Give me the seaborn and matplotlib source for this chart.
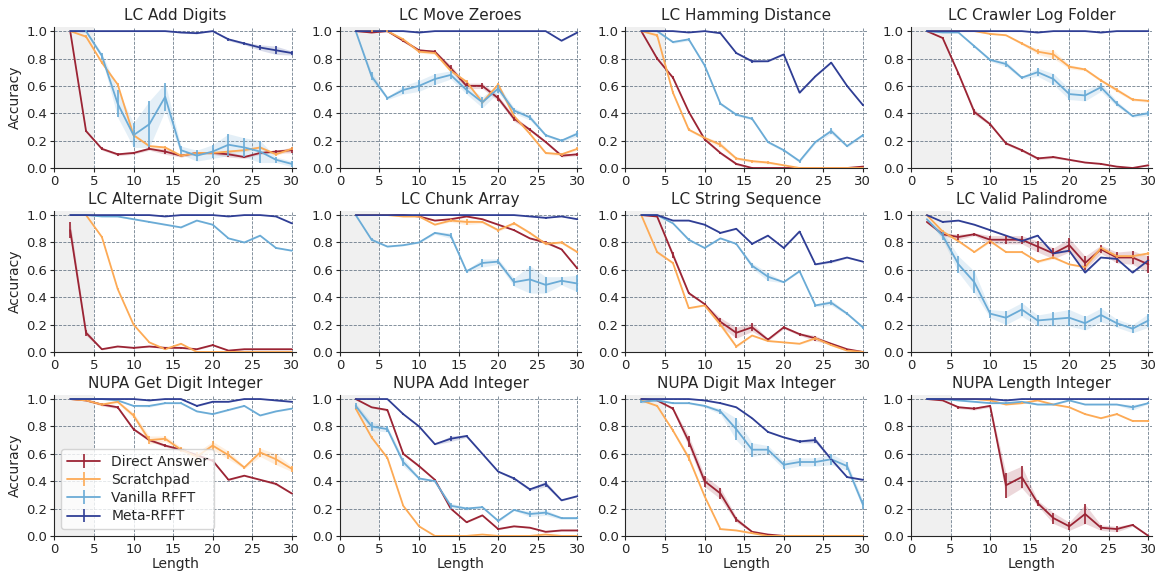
import numpy as np
import pandas as pd
import matplotlib
matplotlib.use("Agg")
import matplotlib.pyplot as plt
import seaborn as sns

lengths = [2, 4, 6, 8, 10, 12, 14, 16, 18, 20, 22, 24, 26, 28, 30]
methods = ["Direct Answer", "Scratchpad", "Vanilla RFFT", "Meta-RFFT"]
titles = ["LC Add Digits", "LC Move Zeroes", "LC Hamming Distance", "LC Crawler Log Folder",
          "LC Alternate Digit Sum", "LC Chunk Array", "LC String Sequence", "LC Valid Palindrome",
          "NUPA Get Digit Integer", "NUPA Add Integer", "NUPA Digit Max Integer", "NUPA Length Integer"]

# mean accuracy per task: [Direct, Scratchpad, Vanilla, Meta]
add_digits_mean = [
    [1.0, 0.27, 0.14, 0.10, 0.11, 0.14, 0.12, 0.09, 0.11, 0.11, 0.10, 0.08, 0.11, 0.12, 0.13],
    [1.0, 0.96, 0.77, 0.61, 0.24, 0.16, 0.15, 0.09, 0.11, 0.11, 0.12, 0.13, 0.15, 0.10, 0.14],
    [1.0, 1.0, 0.82, 0.47, 0.24, 0.32, 0.52, 0.13, 0.09, 0.12, 0.17, 0.15, 0.12, 0.06, 0.03],
    [1.0, 1.0, 1.0, 1.0, 1.0, 1.0, 1.0, 0.99, 0.985, 1.0, 0.94, 0.91, 0.88, 0.86, 0.84]]
add_digits_err = [
    [0, 0.01, 0.01, 0.01, 0.01, 0.01, 0.02, 0.01, 0.01, 0.01, 0.02, 0.01, 0.01, 0.01, 0.02],
    [0, 0.01, 0.01, 0.01, 0.01, 0.01, 0.01, 0.01, 0.01, 0.01, 0.01, 0.01, 0.01, 0.01, 0.01],
    [0, 0.01, 0.02, 0.10, 0.09, 0.17, 0.10, 0.03, 0.04, 0.05, 0.08, 0.07, 0.08, 0.02, 0.02],
    [0, 0, 0, 0, 0, 0, 0, 0.005, 0.005, 0, 0.01, 0.01, 0.02, 0.03, 0.015]]

move_zeroes_mean = [
    [1.0, 0.99, 1.0, 0.93, 0.86, 0.85, 0.73, 0.60, 0.60, 0.51, 0.36, 0.28, 0.19, 0.09, 0.10],
    [1.0, 1.0, 1.0, 0.94, 0.85, 0.84, 0.71, 0.63, 0.48, 0.61, 0.38, 0.25, 0.11, 0.10, 0.14],
    [1.0, 0.67, 0.51, 0.57, 0.60, 0.65, 0.68, 0.57, 0.48, 0.58, 0.42, 0.37, 0.24, 0.20, 0.25],
    [1.0, 1.0, 1.0, 1.0, 0.99, 1.0, 1.0, 1.0, 1.0, 1.0, 1.0, 1.0, 1.0, 0.93, 0.99]]
move_zeroes_err = [
    [0, 0.005, 0, 0.01, 0.01, 0.01, 0.02, 0.02, 0.02, 0.02, 0.02, 0.01, 0.01, 0.01, 0.01],
    [0, 0.005, 0.005, 0.01, 0.01, 0.01, 0.01, 0.01, 0.01, 0.01, 0.01, 0.01, 0.01, 0.01, 0.01],
    [0, 0.03, 0.01, 0.03, 0.04, 0.04, 0.03, 0.03, 0.04, 0.03, 0.02, 0.02, 0.01, 0.01, 0.02],
    [0, 0, 0, 0, 0.005, 0, 0, 0, 0, 0, 0, 0, 0, 0.005, 0.005]]

hamming_mean = [
    [1.0, 0.80, 0.66, 0.41, 0.21, 0.11, 0.03, 0.0, 0.0, 0.0, 0.0, 0.0, 0.0, 0.0, 0.01],
    [1.0, 0.97, 0.55, 0.28, 0.22, 0.17, 0.07, 0.05, 0.04, 0.02, 0.0, 0.0, 0.0, 0.0, 0.0],
    [1.0, 1.0, 0.92, 0.94, 0.75, 0.47, 0.39, 0.36, 0.19, 0.13, 0.05, 0.19, 0.27, 0.16, 0.24],
    [1.0, 1.0, 1.0, 0.99, 1.0, 0.985, 0.84, 0.78, 0.78, 0.83, 0.55, 0.67, 0.77, 0.60, 0.46]]
hamming_err = [
    [0, 0.01, 0.01, 0.01, 0.01, 0.01, 0.01, 0.005, 0, 0, 0, 0, 0, 0, 0.005],
    [0, 0.01, 0.01, 0.01, 0.01, 0.02, 0.01, 0.01, 0.01, 0.005, 0, 0, 0, 0, 0],
    [0, 0, 0.01, 0.01, 0.01, 0.01, 0.01, 0.01, 0.01, 0.01, 0.01, 0.01, 0.02, 0.01, 0.01],
    [0, 0, 0, 0, 0, 0.005, 0.005, 0.01, 0.005, 0.005, 0.005, 0.005, 0.005, 0.005, 0.005]]

crawler_mean = [
    [1.0, 0.95, 0.69, 0.41, 0.32, 0.18, 0.13, 0.07, 0.08, 0.06, 0.04, 0.03, 0.01, 0.0, 0.02],
    [1.0, 1.0, 1.0, 1.0, 0.98, 0.97, 0.91, 0.85, 0.83, 0.74, 0.72, 0.64, 0.57, 0.50, 0.49],
    [1.0, 0.99, 0.99, 0.89, 0.79, 0.76, 0.66, 0.70, 0.65, 0.54, 0.53, 0.59, 0.47, 0.38, 0.40],
    [1.0, 1.0, 1.0, 1.0, 1.0, 1.0, 1.0, 0.99, 1.0, 1.0, 1.0, 0.99, 1.0, 1.0, 1.0]]
crawler_err = [
    [0, 0.005, 0.01, 0.02, 0.01, 0.01, 0.01, 0.01, 0.01, 0.005, 0.005, 0.005, 0.005, 0, 0.005],
    [0, 0, 0, 0, 0.005, 0.005, 0.01, 0.02, 0.03, 0.015, 0.01, 0.01, 0.015, 0.01, 0.01],
    [0, 0, 0, 0.01, 0.01, 0.02, 0.01, 0.03, 0.04, 0.04, 0.04, 0.03, 0.02, 0.01, 0.02],
    [0, 0, 0, 0, 0, 0, 0, 0.005, 0, 0, 0, 0.005, 0, 0, 0]]

alt_digit_mean = [
    [0.89, 0.14, 0.02, 0.04, 0.03, 0.04, 0.03, 0.03, 0.02, 0.05, 0.01, 0.02, 0.02, 0.02, 0.02],
    [1.0, 1.0, 0.84, 0.46, 0.20, 0.07, 0.02, 0.06, 0.0, 0.0, 0.0, 0.0, 0.0, 0.0, 0.0],
    [1.0, 1.0, 0.99, 0.99, 0.97, 0.95, 0.93, 0.91, 0.96, 0.93, 0.83, 0.80, 0.85, 0.76, 0.74],
    [1.0, 1.0, 1.0, 1.0, 1.0, 1.0, 0.99, 1.0, 1.0, 1.0, 0.99, 1.0, 1.0, 0.99, 0.94]]
alt_digit_err = [
    [0.06, 0.02, 0.005, 0.005, 0.005, 0.005, 0.005, 0.005, 0.005, 0.005, 0.005, 0.005, 0.005, 0.005, 0.005],
    [0, 0, 0.005, 0.005, 0.005, 0.005, 0.005, 0.005, 0, 0, 0, 0, 0, 0, 0],
    [0, 0, 0, 0.005, 0.005, 0.005, 0.005, 0.005, 0.005, 0.005, 0.005, 0.005, 0.005, 0.005, 0.005],
    [0, 0, 0, 0, 0, 0, 0, 0, 0, 0, 0, 0, 0, 0, 0.005]]

chunk_mean = [
    [1.0, 1.0, 1.0, 1.0, 0.99, 0.96, 0.97, 0.99, 0.97, 0.93, 0.89, 0.83, 0.80, 0.75, 0.61],
    [1.0, 1.0, 1.0, 0.99, 0.99, 0.93, 0.96, 0.95, 0.95, 0.89, 0.94, 0.87, 0.79, 0.80, 0.73],
    [1.0, 0.82, 0.77, 0.78, 0.80, 0.87, 0.85, 0.59, 0.65, 0.66, 0.51, 0.53, 0.49, 0.52, 0.50],
    [1.0, 1.0, 1.0, 1.0, 1.0, 1.0, 1.0, 1.0, 1.0, 1.0, 1.0, 0.99, 0.98, 0.99, 0.97]]
chunk_err = [
    [0, 0, 0, 0, 0.005, 0.005, 0.005, 0.005, 0.005, 0.005, 0.005, 0.005, 0.01, 0.005, 0.005],
    [0, 0, 0, 0.005, 0.005, 0.005, 0.01, 0.02, 0.01, 0.01, 0.01, 0.01, 0.01, 0.01, 0.01],
    [0, 0.01, 0.005, 0.005, 0.005, 0.01, 0.02, 0.01, 0.03, 0.02, 0.03, 0.10, 0.06, 0.03, 0.06],
    [0, 0, 0, 0, 0, 0, 0, 0, 0, 0, 0, 0, 0.005, 0, 0.005]]

string_seq_mean = [
    [1.0, 0.99, 0.71, 0.43, 0.35, 0.22, 0.14, 0.18, 0.09, 0.18, 0.13, 0.10, 0.06, 0.02, 0.0],
    [1.0, 0.73, 0.65, 0.32, 0.34, 0.20, 0.04, 0.12, 0.08, 0.07, 0.06, 0.10, 0.05, 0.01, 0.0],
    [1.0, 1.0, 0.94, 0.82, 0.76, 0.83, 0.79, 0.63, 0.55, 0.51, 0.59, 0.34, 0.36, 0.28, 0.18],
    [1.0, 1.0, 0.96, 0.96, 0.93, 0.87, 0.90, 0.79, 0.85, 0.76, 0.88, 0.64, 0.66, 0.69, 0.66]]
string_seq_err = [
    [0, 0.005, 0.02, 0.01, 0.005, 0.03, 0.04, 0.03, 0.01, 0.01, 0.01, 0.02, 0.005, 0.005, 0],
    [0, 0.01, 0.01, 0.005, 0.005, 0.02, 0.01, 0.005, 0.005, 0.005, 0.005, 0.01, 0.005, 0.005, 0],
    [0, 0, 0.005, 0.01, 0.005, 0.005, 0.005, 0.02, 0.03, 0.005, 0.005, 0.01, 0.02, 0.01, 0.01],
    [0, 0, 0.005, 0.005, 0.005, 0.005, 0.005, 0.005, 0.005, 0.005, 0.005, 0.005, 0.01, 0.005, 0.005]]

palindrome_mean = [
    [0.95, 0.86, 0.84, 0.86, 0.82, 0.82, 0.82, 0.77, 0.72, 0.78, 0.65, 0.75, 0.69, 0.69, 0.64],
    [1.0, 0.88, 0.81, 0.73, 0.81, 0.73, 0.73, 0.66, 0.69, 0.64, 0.62, 0.76, 0.70, 0.70, 0.72],
    [0.97, 0.85, 0.64, 0.51, 0.28, 0.25, 0.31, 0.23, 0.24, 0.25, 0.21, 0.27, 0.21, 0.17, 0.23],
    [1.0, 0.95, 0.96, 0.93, 0.89, 0.85, 0.81, 0.85, 0.72, 0.74, 0.58, 0.69, 0.68, 0.58, 0.67]]
palindrome_err = [
    [0, 0.01, 0.02, 0.01, 0.03, 0.03, 0.03, 0.04, 0.04, 0.05, 0.05, 0.03, 0.04, 0.05, 0.06],
    [0, 0.01, 0.01, 0.005, 0.01, 0.005, 0.005, 0.01, 0.01, 0.005, 0.01, 0.01, 0.01, 0.01, 0.01],
    [0, 0.03, 0.06, 0.08, 0.03, 0.05, 0.05, 0.04, 0.05, 0.06, 0.05, 0.05, 0.03, 0.03, 0.05],
    [0, 0.005, 0.005, 0.005, 0.005, 0.005, 0.005, 0.005, 0.005, 0.005, 0.005, 0.005, 0.005, 0.005, 0.005]]

get_digit_mean = [
    [1.0, 0.99, 0.96, 0.94, 0.78, 0.70, 0.66, 0.63, 0.59, 0.55, 0.41, 0.44, 0.41, 0.38, 0.31],
    [1.0, 0.99, 0.96, 0.98, 0.88, 0.70, 0.71, 0.63, 0.58, 0.66, 0.59, 0.50, 0.61, 0.56, 0.49],
    [1.0, 1.0, 1.0, 0.99, 0.95, 0.95, 0.97, 0.97, 0.91, 0.89, 0.92, 0.95, 0.88, 0.91, 0.93],
    [1.0, 1.0, 1.0, 1.0, 1.0, 0.99, 1.0, 1.0, 0.95, 0.98, 0.98, 1.0, 1.0, 0.99, 0.98]]
get_digit_err = [
    [0, 0.005, 0.01, 0.01, 0.01, 0.01, 0.01, 0.01, 0.01, 0.01, 0.005, 0.005, 0.005, 0.01, 0.005],
    [0, 0.005, 0.01, 0.01, 0.02, 0.03, 0.02, 0.02, 0.03, 0.03, 0.03, 0.01, 0.03, 0.04, 0.02],
    [0, 0, 0, 0.005, 0.005, 0.01, 0.005, 0.005, 0.005, 0.005, 0.005, 0.005, 0.005, 0.005, 0.005],
    [0, 0, 0, 0, 0, 0.005, 0, 0, 0.005, 0.005, 0.005, 0, 0, 0.005, 0.005]]

add_int_mean = [
    [1.0, 0.94, 0.92, 0.60, 0.51, 0.41, 0.20, 0.10, 0.15, 0.05, 0.07, 0.06, 0.03, 0.04, 0.04],
    [0.93, 0.72, 0.57, 0.22, 0.07, 0.0, 0.0, 0.0, 0.01, 0.0, 0.0, 0.0, 0.01, 0.0, 0.0],
    [0.95, 0.80, 0.78, 0.54, 0.42, 0.40, 0.22, 0.20, 0.21, 0.11, 0.19, 0.16, 0.17, 0.13, 0.13],
    [1.0, 1.0, 1.0, 0.89, 0.80, 0.67, 0.71, 0.73, 0.60, 0.47, 0.42, 0.34, 0.38, 0.26, 0.29]]
add_int_err = [
    [0, 0.005, 0.01, 0.01, 0.01, 0.005, 0.005, 0.005, 0.005, 0.005, 0.005, 0.005, 0.005, 0.005, 0.005],
    [0.01, 0.01, 0.01, 0.005, 0.005, 0, 0, 0, 0.005, 0, 0, 0, 0.005, 0, 0],
    [0.02, 0.03, 0.02, 0.03, 0.01, 0.005, 0.02, 0.01, 0.005, 0.01, 0.005, 0.02, 0.02, 0.01, 0.01],
    [0, 0, 0, 0.005, 0.005, 0.005, 0.02, 0.01, 0.005, 0.005, 0.01, 0.01, 0.02, 0.005, 0.005]]

digit_max_mean = [
    [1.0, 0.99, 0.93, 0.69, 0.40, 0.31, 0.12, 0.03, 0.01, 0.0, 0.0, 0.0, 0.0, 0.0, 0.0],
    [0.99, 0.95, 0.77, 0.57, 0.29, 0.05, 0.04, 0.02, 0.0, 0.0, 0.0, 0.0, 0.0, 0.0, 0.0],
    [0.98, 0.99, 0.97, 0.97, 0.95, 0.91, 0.78, 0.63, 0.63, 0.52, 0.54, 0.54, 0.56, 0.51, 0.23],
    [1.0, 1.0, 1.0, 1.0, 0.99, 0.97, 0.94, 0.86, 0.76, 0.72, 0.69, 0.70, 0.56, 0.43, 0.41]]
digit_max_err = [
    [0, 0.005, 0.01, 0.04, 0.04, 0.04, 0.02, 0.005, 0.005, 0, 0, 0, 0, 0, 0],
    [0.005, 0.005, 0.01, 0.02, 0.005, 0.005, 0.005, 0.005, 0, 0, 0, 0, 0, 0, 0],
    [0.01, 0.005, 0.005, 0.005, 0.01, 0.02, 0.08, 0.05, 0.03, 0.03, 0.03, 0.03, 0.04, 0.03, 0.03],
    [0, 0, 0, 0, 0.005, 0.005, 0.005, 0.005, 0.005, 0.005, 0.01, 0.02, 0.005, 0.005, 0.005]]

length_int_mean = [
    [1.0, 0.99, 0.94, 0.93, 0.95, 0.37, 0.43, 0.24, 0.13, 0.07, 0.16, 0.06, 0.05, 0.08, 0.0],
    [1.0, 1.0, 1.0, 1.0, 0.99, 0.96, 0.97, 0.99, 0.96, 0.94, 0.89, 0.86, 0.89, 0.84, 0.84],
    [1.0, 1.0, 0.99, 0.98, 0.97, 0.97, 0.98, 0.96, 0.96, 0.99, 0.96, 0.96, 0.96, 0.94, 0.97],
    [1.0, 1.0, 1.0, 1.0, 1.0, 0.99, 1.0, 1.0, 1.0, 1.0, 1.0, 1.0, 1.0, 1.0, 1.0]]
length_int_err = [
    [0, 0, 0.01, 0.01, 0.01, 0.09, 0.08, 0.02, 0.04, 0.03, 0.07, 0.02, 0.02, 0.01, 0],
    [0, 0, 0, 0, 0.005, 0.005, 0.005, 0.005, 0.005, 0.005, 0.005, 0.005, 0.005, 0.005, 0.005],
    [0, 0, 0.005, 0.005, 0.005, 0.005, 0.005, 0.005, 0.005, 0.005, 0.005, 0.005, 0.005, 0.02, 0.005],
    [0, 0, 0, 0, 0, 0.005, 0, 0, 0, 0, 0, 0, 0, 0, 0]]

all_means = [add_digits_mean, move_zeroes_mean, hamming_mean, crawler_mean,
             alt_digit_mean, chunk_mean, string_seq_mean, palindrome_mean,
             get_digit_mean, add_int_mean, digit_max_mean, length_int_mean]
all_errs = [add_digits_err, move_zeroes_err, hamming_err, crawler_err,
            alt_digit_err, chunk_err, string_seq_err, palindrome_err,
            get_digit_err, add_int_err, digit_max_err, length_int_err]

colors = ["#9b2434", "#fdaa55", "#6aabd6", "#2f3e95"]

rows = []
for t, means in zip(titles, all_means):
    for m, vals in zip(methods, means):
        for x, v in zip(lengths, vals):
            rows.append({"task": t, "method": m, "Length": x, "Accuracy": v})
df = pd.DataFrame(rows)

sns.set_style("ticks")
plt.rcParams["font.family"] = ["DejaVu Sans"]

fig, axes = plt.subplots(3, 4, figsize=(11.57, 5.75), dpi=100)
fig.subplots_adjust(left=0.047, right=0.996, top=0.953, bottom=0.068, wspace=0.183, hspace=0.305)

for i, (ax, t) in enumerate(zip(axes.flat, titles)):
    ax.axvspan(0, 5, color="#f0f0f0", zorder=0, lw=0)
    sub = df[df.task == t]
    sns.lineplot(data=sub, x="Length", y="Accuracy", hue="method", hue_order=methods,
                 palette=colors, errorbar=None, ax=ax, legend=False, lw=1.3, zorder=3)
    handles = []
    for k, m in enumerate(methods):
        mu = np.array(all_means[i][k])
        e = np.array(all_errs[i][k])
        ax.fill_between(lengths, mu - e, mu + e, color=colors[k], alpha=0.18, lw=0, zorder=2)
        ax.errorbar(lengths, mu, yerr=e, color=colors[k], fmt="none", elinewidth=1.2,
                    capsize=0, zorder=3)
        handles.append(ax.errorbar([], [], yerr=[], color=colors[k], lw=1.3, elinewidth=1.2,
                                   capsize=0, label=m))
    ax.set_xlim(0, 30.5)
    ax.set_ylim(0, 1.03)
    ax.set_xticks([0, 5, 10, 15, 20, 25, 30])
    ax.set_yticks([0.0, 0.2, 0.4, 0.6, 0.8, 1.0])
    ax.set_yticklabels(["0.0", "0.2", "0.4", "0.6", "0.8", "1.0"])
    ax.grid(True, color="#34495e", linestyle="--", linewidth=0.6, alpha=0.7)
    ax.set_axisbelow(True)
    ax.tick_params(labelsize=9.5, length=3, pad=2)
    ax.set_title(t, fontsize=11, pad=5)
    ax.set_xlabel("Length" if i >= 8 else "", fontsize=10, labelpad=1)
    ax.set_ylabel("Accuracy" if i % 4 == 0 else "", fontsize=10, labelpad=3)
    sns.despine(ax=ax)
    if i == 8:
        ax.legend(handles=handles, labels=methods, loc="lower left", fontsize=10,
                  frameon=True, framealpha=0.8, handlelength=2.4, borderpad=0.4,
                  labelspacing=0.3)

fig.savefig("out.png", dpi=100)
